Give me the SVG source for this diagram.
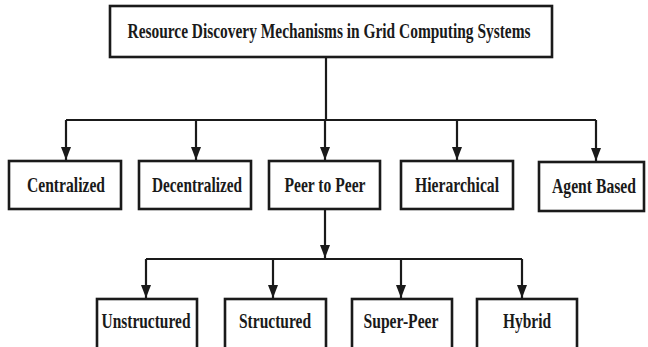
<svg xmlns="http://www.w3.org/2000/svg" width="648" height="347" viewBox="0 0 648 347">
<style>
.box{fill:#fff;stroke:#1a1a1a;stroke-width:2.6}
.lbl{font-family:"Liberation Serif","Times New Roman",serif;font-weight:bold;font-size:21px;fill:#1a1a1a;text-anchor:middle}
.ln{fill:none;stroke:#1a1a1a;stroke-width:2.2}
</style>
<defs>
<marker id="ah" markerUnits="userSpaceOnUse" markerWidth="13" markerHeight="10" refX="13" refY="5" orient="auto" viewBox="0 0 13 10">
<path d="M0,0 L13,5 L0,10 Z" fill="#1a1a1a"/>
</marker>
</defs>
<rect width="648" height="347" fill="#fff"/>
<g id="connectors">
<path class="ln" d="M326,57 V120"/>
<path class="ln" d="M66,120 H596"/>
<path class="ln" d="M66,120 V160" marker-end="url(#ah)"/>
<path class="ln" d="M196,120 V160" marker-end="url(#ah)"/>
<path class="ln" d="M325,120 V160" marker-end="url(#ah)"/>
<path class="ln" d="M457,120 V160" marker-end="url(#ah)"/>
<path class="ln" d="M596,120 V161" marker-end="url(#ah)"/>
<path class="ln" d="M325,209 V258" marker-end="url(#ah)"/>
<path class="ln" d="M146,259 H522"/>
<path class="ln" d="M146,259 V298" marker-end="url(#ah)"/>
<path class="ln" d="M273,259 V298" marker-end="url(#ah)"/>
<path class="ln" d="M401,259 V298" marker-end="url(#ah)"/>
<path class="ln" d="M522,259 V298" marker-end="url(#ah)"/>
</g>
<g id="root">
<rect class="box" x="110" y="6" width="442" height="51"/>
<text class="lbl" x="329" y="38" textLength="403" lengthAdjust="spacingAndGlyphs">Resource Discovery Mechanisms in Grid Computing Systems</text>
</g>
<g id="centralized">
<rect class="box" x="9" y="161" width="112" height="48"/>
<text class="lbl" x="66" y="192" textLength="78" lengthAdjust="spacingAndGlyphs">Centralized</text>
</g>
<g id="decentralized">
<rect class="box" x="139" y="161" width="112" height="48"/>
<text class="lbl" x="197" y="192" textLength="90" lengthAdjust="spacingAndGlyphs">Decentralized</text>
</g>
<g id="p2p">
<rect class="box" x="269" y="161" width="111" height="48"/>
<text class="lbl" x="325" y="192" textLength="81" lengthAdjust="spacingAndGlyphs">Peer to Peer</text>
</g>
<g id="hierarchical">
<rect class="box" x="401" y="161" width="112" height="48"/>
<text class="lbl" x="457" y="192" textLength="84" lengthAdjust="spacingAndGlyphs">Hierarchical</text>
</g>
<g id="agent">
<rect class="box" x="539" y="162" width="105" height="49"/>
<text class="lbl" x="594" y="193" textLength="84" lengthAdjust="spacingAndGlyphs">Agent Based</text>
</g>
<g id="unstructured">
<rect class="box" x="97" y="299" width="100" height="52"/>
<text class="lbl" x="146" y="328" textLength="89" lengthAdjust="spacingAndGlyphs">Unstructured</text>
</g>
<g id="structured">
<rect class="box" x="225" y="299" width="101" height="52"/>
<text class="lbl" x="275" y="328" textLength="72" lengthAdjust="spacingAndGlyphs">Structured</text>
</g>
<g id="superpeer">
<rect class="box" x="352" y="299" width="100" height="52"/>
<text class="lbl" x="401" y="328" textLength="75" lengthAdjust="spacingAndGlyphs">Super-Peer</text>
</g>
<g id="hybrid">
<rect class="box" x="477" y="299" width="100" height="52"/>
<text class="lbl" x="527" y="328" textLength="48" lengthAdjust="spacingAndGlyphs">Hybrid</text>
</g>
</svg>
